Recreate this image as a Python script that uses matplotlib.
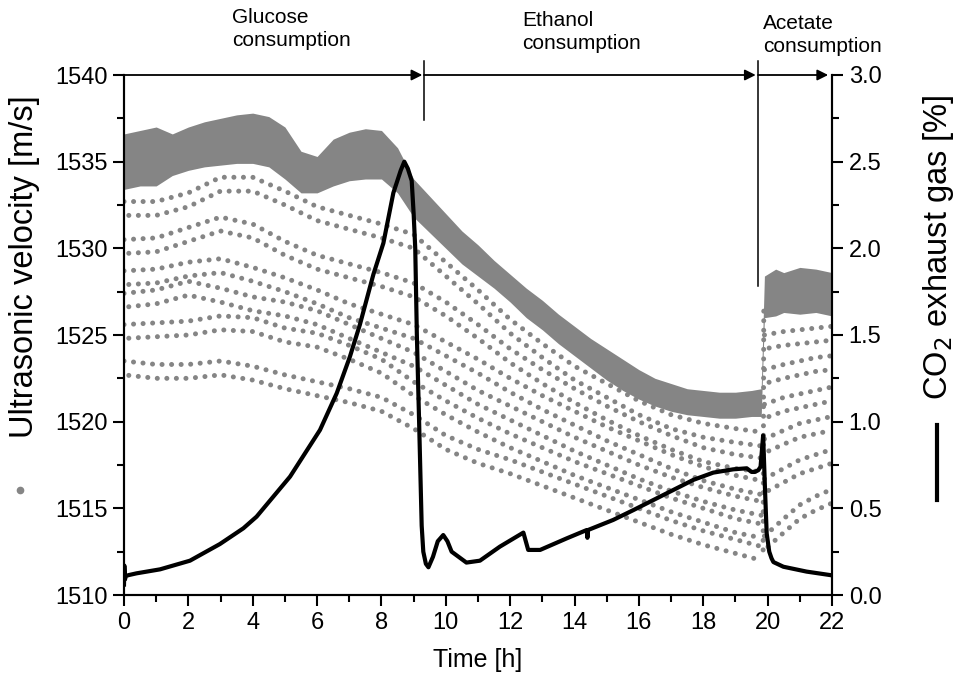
import numpy as np
import matplotlib
matplotlib.use('Agg')
import matplotlib.pyplot as plt
from matplotlib.ticker import MultipleLocator, FormatStrFormatter

plt.rcParams['font.family'] = ['Liberation Sans', 'DejaVu Sans']

# ---------------- data ----------------
# dense upper band of ultrasonic velocity (edges) [m/s]
dense_t = [0, 0.5, 1.0, 1.5, 2.0, 2.5, 3.0, 3.5, 4.0, 4.5, 5.0, 5.5, 6.0, 6.5, 7.0,
           7.5, 8.0, 8.5, 9.0, 9.5, 10.0, 10.5, 11.0, 11.5, 12.0, 12.5, 13.0, 13.5,
           14.0, 14.5, 15.0, 15.5, 16.0, 16.5, 17.0, 17.5, 18.0, 18.5, 19.0, 19.5,
           19.8, 19.9, 20.25, 20.5, 21.0, 21.5, 22.0]
dense_hi = [1536.6, 1536.8, 1537.0, 1536.6, 1537.0, 1537.3, 1537.5, 1537.7, 1537.8,
            1537.6, 1537.0, 1535.6, 1535.3, 1536.3, 1536.7, 1536.9, 1536.8, 1535.8,
            1534.0, 1533.0, 1532.0, 1531.0, 1530.2, 1529.3, 1528.5, 1527.7, 1527.0,
            1526.2, 1525.5, 1524.8, 1524.2, 1523.6, 1523.0, 1522.5, 1522.2, 1521.9,
            1521.8, 1521.7, 1521.7, 1521.8, 1521.9, 1528.4, 1528.8, 1528.6, 1528.9,
            1528.8, 1528.6]
dense_lo = [1533.4, 1533.6, 1533.6, 1534.2, 1534.5, 1534.7, 1534.8, 1534.9, 1534.9,
            1534.7, 1534.0, 1533.2, 1533.2, 1533.6, 1533.9, 1534.0, 1534.0, 1533.2,
            1531.8, 1530.9, 1530.0, 1529.1, 1528.4, 1527.7, 1526.9, 1526.0, 1525.3,
            1524.5, 1523.8, 1523.1, 1522.4, 1521.8, 1521.3, 1520.9, 1520.6, 1520.4,
            1520.3, 1520.2, 1520.2, 1520.3, 1520.3, 1526.0, 1526.1, 1526.3, 1526.2,
            1526.3, 1526.1]

# sparse lower bands (before the acetate phase), band centres
band_t = [0, 1, 2, 3, 4, 5, 6, 7, 8, 9, 10, 11, 12, 13, 14, 15, 16, 17, 18, 19, 19.8]
band1 = [1532.3, 1532.3, 1532.8, 1533.7, 1533.7, 1532.9, 1532.0, 1531.5, 1531.0, 1530.4,
         1528.8, 1527.2, 1525.5, 1524.1, 1522.8, 1521.8, 1520.8, 1520.0, 1519.5, 1519.2, 1519.0]
band2 = [1530.1, 1530.2, 1530.8, 1531.4, 1531.0, 1530.0, 1529.2, 1528.7, 1528.2, 1527.6,
         1526.5, 1525.2, 1523.8, 1522.6, 1521.5, 1520.5, 1519.6, 1518.8, 1518.1, 1517.7, 1517.5]
band3 = [1528.3, 1528.4, 1528.8, 1529.0, 1528.5, 1527.9, 1527.2, 1526.4, 1525.8, 1525.2,
         1524.2, 1523.2, 1522.1, 1521.1, 1520.2, 1519.3, 1518.5, 1517.7, 1517.0, 1516.5, 1516.2]
band4 = [1527.0, 1527.2, 1527.7, 1527.3, 1526.8, 1526.5, 1526.0, 1525.2, 1524.4, 1523.6,
         1522.5, 1521.4, 1520.5, 1519.6, 1518.7, 1517.9, 1517.1, 1516.4, 1515.8, 1515.3, 1515.0]
band5 = [1525.2, 1525.3, 1525.4, 1525.7, 1525.6, 1525.0, 1524.7, 1524.0, 1523.2, 1521.9,
         1520.8, 1519.8, 1518.9, 1518.1, 1517.3, 1516.6, 1515.9, 1515.2, 1514.6, 1514.0, 1513.7]
band6 = [1523.1, 1522.9, 1522.9, 1523.1, 1522.8, 1522.3, 1521.9, 1521.5, 1521.0, 1520.0,
         1518.8, 1518.0, 1517.4, 1516.7, 1516.0, 1515.3, 1514.6, 1513.9, 1513.3, 1512.8, 1512.4]

# sparse lower bands (acetate phase), band centres
post_t = [19.9, 20.5, 21.0, 21.5, 22.0]
post1 = [1524.6, 1524.8, 1524.9, 1525.0, 1525.1]
post2 = [1522.6, 1522.9, 1523.1, 1523.3, 1523.4]
post3 = [1520.6, 1521.0, 1521.2, 1521.4, 1521.6]
post4 = [1518.6, 1519.1, 1519.5, 1519.7, 1519.9]
post5 = [1516.3, 1516.9, 1517.4, 1517.7, 1518.0]
post6 = [1513.0, 1514.0, 1514.8, 1515.3, 1515.7]

# column of readings during the jump at the start of the acetate phase
jump_t = [19.86, 19.88]
jump_v = [1512.6, 1526.5]

# CO2 in exhaust gas [%]
co2_t = [0.0, 0.01, 0.03, 0.06, 0.15, 0.39, 1.12, 2.05, 2.98, 3.71, 4.12, 5.16, 6.09,
         6.61, 7.02, 7.33, 7.75, 8.06, 8.37, 8.6, 8.71, 8.82, 8.94, 9.0, 9.05, 9.1,
         9.17, 9.25, 9.3, 9.38, 9.46, 9.6, 9.75, 9.92, 10.05, 10.18, 10.64, 11.06,
         11.68, 12.41, 12.5, 12.56, 12.93, 13.76, 14.38, 14.4, 14.42, 15.2, 15.83,
         16.45, 17.07, 17.69, 18.31, 18.93, 19.35, 19.5, 19.6, 19.71, 19.78, 19.86,
         19.92, 19.97, 20.05, 20.12, 20.18, 20.49, 21.21, 21.94, 22.0]
co2_v = [0.06, 0.17, 0.09, 0.11, 0.115, 0.125, 0.148, 0.198, 0.294, 0.385, 0.452, 0.683,
         0.952, 1.164, 1.375, 1.56, 1.85, 2.03, 2.32, 2.45, 2.50, 2.46, 2.39, 2.2, 2.0,
         1.5, 1.0, 0.4, 0.25, 0.18, 0.16, 0.22, 0.31, 0.346, 0.31, 0.25, 0.187, 0.198,
         0.279, 0.36, 0.30, 0.26, 0.26, 0.327, 0.375, 0.33, 0.375, 0.433, 0.49, 0.548,
         0.606, 0.664, 0.706, 0.725, 0.731, 0.71, 0.71, 0.72, 0.74, 0.92, 0.6, 0.356,
         0.25, 0.212, 0.19, 0.163, 0.135, 0.115, 0.113]

phase_labels = ['Glucose\nconsumption', 'Ethanol\nconsumption', 'Acetate\nconsumption']
phase_bounds = [0, 9.32, 19.70, 22]

# ---------------- figure ----------------
W, H = 958, 686
fig = plt.figure(figsize=(W / 100, H / 100), dpi=100)
ax = fig.add_axes([124 / W, 1 - 595 / H, 708 / W, 520 / H])
ax2 = ax.twinx()

gray = '#858585'
ax.fill_between(dense_t, dense_lo, dense_hi, color=gray, lw=0, zorder=2)

# each sparse band is drawn as two staggered rows of dots (band thickness ~0.8 m/s)
half_width = 0.4
row_a = dict(color=gray, lw=3.6, linestyle=(0, (0.01, 1.9)),
             dash_capstyle='round', zorder=2)
row_b = dict(color=gray, lw=3.6, linestyle=(0.95, (0.01, 1.9)),
             dash_capstyle='round', zorder=2)
for tt, bands in ((band_t, (band1, band2, band3, band4, band5, band6)),
                  (post_t, (post1, post2, post3, post4, post5, post6))):
    for b in bands:
        ax.plot(tt, np.asarray(b) + half_width, **row_a)
        ax.plot(tt, np.asarray(b) - half_width, **row_b)
ax.plot(jump_t, jump_v, **row_a)

ax2.plot(co2_t, co2_v, color='black', lw=3.0, solid_joinstyle='round', zorder=3)

ax.set_xlim(0, 22)
ax.set_ylim(1510, 1540)
ax2.set_ylim(0, 3.0)

ax.xaxis.set_major_locator(MultipleLocator(2))
ax.xaxis.set_minor_locator(MultipleLocator(1))
ax.yaxis.set_major_locator(MultipleLocator(5))
ax.yaxis.set_minor_locator(MultipleLocator(2.5))
ax2.yaxis.set_major_locator(MultipleLocator(0.5))
ax2.yaxis.set_minor_locator(MultipleLocator(0.25))
ax2.yaxis.set_major_formatter(FormatStrFormatter('%.1f'))

for a in (ax, ax2):
    a.tick_params(which='major', direction='out', length=8, width=1.5, labelsize=17, pad=4)
    a.tick_params(which='minor', direction='out', length=5, width=1.5)
    for s in a.spines.values():
        s.set_linewidth(1.5)
    a.spines['top'].set_visible(False)
ax.tick_params(axis='x', which='both', top=False)

# phase arrows along the top
ytop = 1540
tips = [9.27, 19.63, 21.88]
for start, tip in zip(phase_bounds[:3], tips):
    ax.annotate('', xy=(tip, ytop), xytext=(start, ytop),
                arrowprops=dict(arrowstyle='-|>', color='black', lw=1.3,
                                mutation_scale=16, shrinkA=0, shrinkB=0),
                annotation_clip=False, zorder=5)
ax.plot([phase_bounds[1]] * 2, [1540.8, 1537.4], color='black', lw=1.1, clip_on=False, zorder=5)
ax.plot([phase_bounds[2]] * 2, [1540.8, 1527.8], color='black', lw=1.1, clip_on=False, zorder=5)

text_x = [232, 522, 763]
text_y = [8, 11, 14]
for lab, x, y in zip(phase_labels, text_x, text_y):
    fig.text(x / W, 1 - y / H, lab, ha='left', va='top', fontsize=15, linespacing=1.25)

# axis labels
fig.text(25 / W, 1 - 267 / H, 'Ultrasonic velocity [m/s]', rotation=90,
         ha='center', va='center', fontsize=23.5)
fig.lines.append(plt.Line2D([20 / W], [1 - 490 / H], marker='o', ms=4.5, color=gray,
                            ls='none', transform=fig.transFigure, figure=fig))
fig.text(938 / W, 1 - 247 / H, 'CO$_2$ exhaust gas [%]', rotation=90,
         ha='center', va='center', fontsize=23.5)
fig.lines.append(plt.Line2D([937 / W, 937 / W], [1 - 425 / H, 1 - 500 / H], color='black',
                            lw=3.0, transform=fig.transFigure, figure=fig))
fig.text(478 / W, 1 - 660 / H, 'Time [h]', ha='center', va='center', fontsize=18)

fig.savefig('out.png', dpi=100)
